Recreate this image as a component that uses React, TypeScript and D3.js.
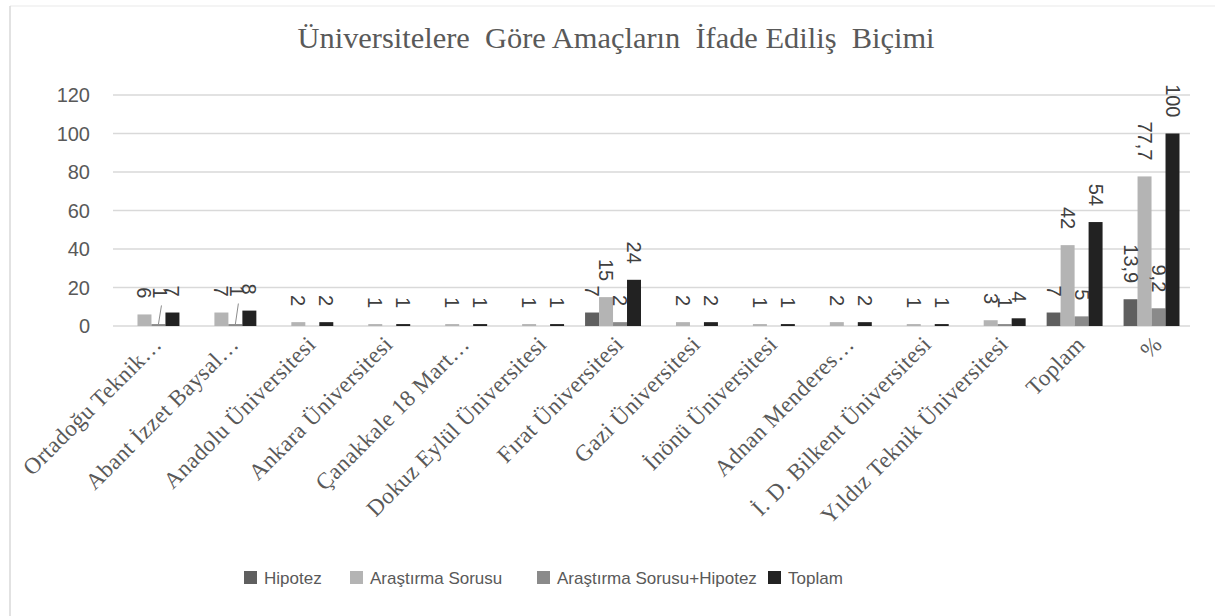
import { useEffect } from "react";
import * as d3 from "d3";

const categories = [
  "Ortadoğu Teknik…",
  "Abant İzzet Baysal…",
  "Anadolu Üniversitesi",
  "Ankara Üniversitesi",
  "Çanakkale 18 Mart…",
  "Dokuz Eylül Üniversitesi",
  "Fırat Üniversitesi",
  "Gazi Üniversitesi",
  "İnönü Üniversitesi",
  "Adnan Menderes…",
  "İ. D. Bilkent Üniversitesi",
  "Yıldız Teknik Üniversitesi",
  "Toplam",
  "%",
];

const hipotez = [null, null, null, null, null, null, 7, null, null, null, null, null, 7, 13.9];
const arastirmaSorusu = [6, 7, 2, 1, 1, 1, 15, 2, 1, 2, 1, 3, 42, 77.7];
const sorusuHipotez = [1, 1, null, null, null, null, 2, null, null, null, null, 1, 5, 9.2];
const toplam = [7, 8, 2, 1, 1, 1, 24, 2, 1, 2, 1, 4, 54, 100];

const seriesNames = ["Hipotez", "Araştırma Sorusu", "Araştırma Sorusu+Hipotez", "Toplam"];
const seriesValues = [hipotez, arastirmaSorusu, sorusuHipotez, toplam];
const seriesColors = ["#5f5f5f", "#b4b4b4", "#8a8a8a", "#222222"];

const yTicks = [0, 20, 40, 60, 80, 100, 120];

const W = 1215;
const H = 616;
const plot = { left: 113, right: 1190, top: 95, bottom: 326 };
const legendX = [244, 350, 537, 768];

const sans = "'Liberation Sans', Arial, sans-serif";
const serif = "'Liberation Serif', 'Times New Roman', serif";

const fmt = (v: number) => String(v).replace(".", ",");

export default function App() {
  useEffect(() => {
    document.body.style.margin = "0";
  }, []);

  const x0 = d3.scaleBand<string>().domain(categories).range([plot.left, plot.right]);
  const x1 = d3
    .scaleBand<string>()
    .domain(seriesNames)
    .range([10.5, x0.bandwidth() - 10.5]);
  const y = d3.scaleLinear().domain([0, 120]).range([plot.bottom, plot.top]);

  const gap = 16;

  return (
    <svg width={W} height={H} style={{ display: "block", background: "#fff" }}>
      {/* chart border */}
      <line x1={10} x2={W} y1={6} y2={6} stroke="#f0f0f0" strokeWidth={1.5} />
      <line x1={10} x2={10} y1={6} y2={H} stroke="#d9d9d9" strokeWidth={1.5} />

      <text
        x={616}
        y={48}
        textAnchor="middle"
        fontFamily={serif}
        fontSize={30}
        fill="#595959"
        textLength={637}
        lengthAdjust="spacingAndGlyphs"
        style={{ whiteSpace: "pre" }}
      >
        {"Üniversitelere  Göre Amaçların  İfade Ediliş  Biçimi"}
      </text>

      {/* grid + y ticks */}
      {yTicks.map((t) => (
        <g key={t}>
          <line x1={plot.left} x2={plot.right} y1={y(t)} y2={y(t)} stroke="#d9d9d9" strokeWidth={1.5} />
          <text x={90} y={y(t)} dy="0.35em" textAnchor="end" fontFamily={sans} fontSize={20} fill="#595959">
            {t}
          </text>
        </g>
      ))}

      {/* bars */}
      {categories.map((c, i) => (
        <g key={c} transform={`translate(${x0(c)},0)`}>
          {seriesNames.map((s, k) => {
            const v = seriesValues[k][i];
            if (v == null) return null;
            return (
              <rect
                key={s}
                x={x1(s)}
                y={y(v)}
                width={x1.bandwidth()}
                height={y(0) - y(v)}
                fill={seriesColors[k]}
              />
            );
          })}
        </g>
      ))}

      {/* data labels */}
      {categories.map((c, i) => (
        <g key={c} transform={`translate(${x0(c)},0)`}>
          {seriesNames.map((s, k) => {
            const v = seriesValues[k][i];
            if (v == null) return null;
            const cx = (x1(s) as number) + x1.bandwidth() / 2;
            let endY = y(v) - gap;
            let leader = false;
            // small combined values get pushed up next to the neighbouring label
            const prev = arastirmaSorusu[i];
            if (k === 2 && v <= 1 && prev != null && prev >= 5) {
              endY = y(prev) - gap;
              leader = true;
            }
            return (
              <g key={s}>
                {leader && (
                  <line x1={cx + 3} y1={endY + 7} x2={cx} y2={y(v)} stroke="#8c8c8c" strokeWidth={1} />
                )}
                <text
                  transform={`translate(${cx + (leader ? 2 : 0)},${endY}) rotate(90)`}
                  dy="0.35em"
                  textAnchor="end"
                  fontFamily={sans}
                  fontSize={20}
                  fill="#404040"
                >
                  {fmt(v)}
                </text>
              </g>
            );
          })}
        </g>
      ))}

      {/* x category labels */}
      {categories.map((c) => (
        <text
          key={c}
          transform={`translate(${(x0(c) as number) + x0.bandwidth() / 2 + 6},${plot.bottom + 14}) rotate(-45)`}
          dy="0.35em"
          textAnchor="end"
          fontFamily={serif}
          fontSize={23}
          letterSpacing={0.4}
          fill="#595959"
        >
          {c}
        </text>
      ))}

      {/* legend */}
      {seriesNames.map((s, k) => (
        <g key={s} transform={`translate(${legendX[k]},578)`}>
          <rect x={0} y={-7} width={13} height={13} fill={seriesColors[k]} />
          <text x={20} y={0} dy="0.35em" fontFamily={sans} fontSize={17} fill="#595959">
            {s}
          </text>
        </g>
      ))}
    </svg>
  );
}
